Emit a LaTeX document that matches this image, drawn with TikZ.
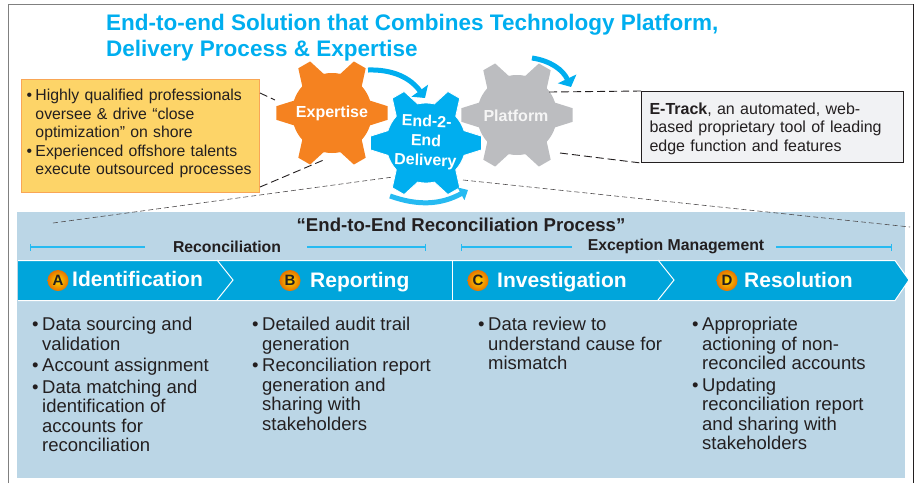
\documentclass[tikz,border=0pt]{standalone}
\usepackage{fontspec}
\setmainfont{Liberation Sans}
\usepackage{xcolor}
\usetikzlibrary{positioning, arrows.meta}

\definecolor{skyblue}{HTML}{00AEEF}
\definecolor{bandblue}{HTML}{00A5DB}
\definecolor{panelblue}{HTML}{BBD6E6}
\definecolor{inkdark}{HTML}{231F20}
\definecolor{cogorange}{HTML}{F58220}
\definecolor{coggray}{HTML}{BCBDC0}
\definecolor{noteyellow}{HTML}{FDD468}
\definecolor{noteedge}{HTML}{F9A655}
\definecolor{notegray}{HTML}{F1F2F4}

% bullet and hanging indent for the lists
\newcommand{\bul}[1][10pt]{\makebox[#1][l]{\textbullet}}
\newcommand{\ind}[1][10pt]{\hspace*{#1}}
% six-toothed cog: style, centre
\newcommand{\cog}[2]{\path[#1, shift={(#2)}] (-18:40) \foreach \a in {0,60,...,300} {
    -- (\a-18:40) -- (\a-7:56) -- (\a+7:56) -- (\a+18:40) arc[start angle=\a+18, end angle=\a+42, radius=40]} -- cycle;}

\begin{document}
\begin{tikzpicture}[
    x=1pt, y=-1pt,
    headline/.style={anchor=base west, inner sep=0pt, text=skyblue, font=\fontsize{22.5}{26}\selectfont\bfseries},
    coglabel/.style={text=white, align=center, font=\fontsize{16}{19.5}\selectfont\bfseries},
    sidebox/.style={anchor=north west, align=left, inner ysep=0pt, text=inkdark,
        font=\fontsize{16}{18.5}\selectfont},
    grouplabel/.style={text=inkdark, inner xsep=0pt, font=\fontsize{15.8}{18}\selectfont\bfseries},
    span/.style={draw=skyblue!85!white, line width=1.1pt},
    steptext/.style={anchor=base west, inner sep=0pt, text=white, font=\fontsize{21}{24}\selectfont\bfseries},
    stepdot/.style={circle, inner sep=0pt, minimum size=21pt, inner color=yellow!70!orange, outer color=orange!90!black,
        text=inkdark, font=\fontsize{15}{16}\selectfont\bfseries},
    listtext/.style={anchor=north west, align=left, inner sep=0pt, text=inkdark, font=\fontsize{18.5}{19.5}\selectfont},
    leader/.style={draw=inkdark, line width=0.9pt, dash pattern=on 8pt off 4pt},
    thinleader/.style={draw=inkdark!80, line width=0.6pt, dash pattern=on 5pt off 3pt},
    turn/.style={draw=skyblue, line width=5pt, -{Triangle[width=20pt, length=9pt]}}
]
\useasboundingbox (0,0) rectangle (917,483);

% Frame
\draw[gray, line width=1pt] (8,483) -- (8,4) -- (913,4);
\draw[inkdark, line width=1pt] (913,4) -- (913,483);

% Panel
\fill[panelblue] (17,212) rectangle (905,478);

% Heading
\node[headline] (title1) at (106,30) {End-to-end Solution that Combines Technology Platform,};
\node[headline] (title2) at (106,56) {Delivery Process \& Expertise};

% Leaders from the panel
\coordinate (panelL) at (53,223);
\coordinate (panelR) at (910,227);
\coordinate (cogL) at (393,177);
\coordinate (cogR) at (463,180);
\draw[thinleader] (panelL) -- (cogL);
\draw[thinleader] (cogR) -- (panelR);

% Cogs
\cog{fill=cogorange}{332,113}
\cog{fill=coggray}{517,115}
\cog{fill=skyblue, draw=white, line width=0.8pt}{426,143}
\node[coglabel] (expertise) at (332,113) {Expertise};
\node[coglabel, text=white!92!gray] (platform) at (516,116) {Platform};
\node[coglabel, rotate=-2] (delivery) at (426,142) {End-2-\\End\\Delivery};

% Turn arrows
\coordinate (turn1a) at (368,70);
\coordinate (turn1b) at (425,98);
\coordinate (turn2a) at (532,58);
\coordinate (turn2b) at (571,87);
\coordinate (turn3a) at (390,196);
\coordinate (turn3b) at (468,190);
\draw[turn] (turn1a) to[bend left=28] (turn1b);
\draw[turn] (turn2a) to[bend left=28] (turn2b);
\draw[turn, draw=skyblue!85!white, -{Triangle[width=14pt, length=8pt]}] (turn3a) to[bend right=24] (turn3b);

% Side boxes
\node[sidebox, fill=noteyellow, draw=noteedge, line width=1pt, inner xsep=5pt, text width=228pt,
    minimum height=113pt, font=\fontsize{15.8}{18.5}\selectfont] (skills) at (21,79) {%
    \bul[9pt]Highly qualified professionals\\
    \ind[9pt]oversee \& drive “close\\
    \ind[9pt]optimization” on shore\\
    \bul[9pt]Experienced offshore talents\\
    \ind[9pt]execute outsourced processes\rule[-8pt]{0pt}{0pt}};
\node[sidebox, fill=notegray, draw=inkdark, line width=1pt, inner xsep=8pt, text width=246pt,
    minimum height=71pt] (etrack) at (641,91) {%
    \rule{0pt}{15pt}\textbf{E-Track}, an automated, web-\\
    based proprietary tool of leading\\
    edge function and features};

% Leaders to the side boxes
\coordinate (skillsA) at (275,100);
\coordinate (skillsB) at (326,159);
\coordinate (etrackA) at (549,92);
\coordinate (etrackB) at (560,153);
\draw[leader] (skills.east |- 0,93) -- (skillsA);
\draw[leader] (skills.east |- 0,187) -- (skillsB);
\draw[leader] (etrackA) -- (etrack.north west);
\draw[leader] (etrackB) -- (etrack.south west);

% Panel heading and spans
\node[text=inkdark, font=\fontsize{18.6}{20}\selectfont\bfseries] (process) at (461,225) {“End-to-End Reconciliation Process”};
\node[grouplabel] (recon) at (227,247) {Reconciliation};
\node[grouplabel] (except) at (676,246) {Exception Management};
\coordinate (reconL) at (30,247);
\coordinate (reconR) at (426,247);
\coordinate (exceptL) at (461,247);
\coordinate (exceptR) at (892,247);
\draw[span, {Bar[width=7pt]}-] (reconL) -- ([xshift=-28pt]recon.west |- reconL);
\draw[span, -{Bar[width=7pt]}] ([xshift=26pt]recon.east |- reconR) -- (reconR);
\draw[span, {Bar[width=7pt]}-] (exceptL) -- ([xshift=-16pt]except.west |- exceptL);
\draw[span, -{Bar[width=7pt]}] ([xshift=12pt]except.east |- exceptR) -- (exceptR);

% Step band
\fill[bandblue] (18,261) -- (895,261) -- (909,280) -- (895,300) -- (18,300) -- cycle;
\draw[white, line width=1pt] (18,260.5) -- (895,260.5) -- (909,280) -- (895,300.5) -- (18,300.5);
\draw[white, line width=1pt] (217,260) -- (233,280) -- (217,300);
\draw[white, line width=1pt] (452,260) -- (452,300);
\draw[white, line width=1pt] (658,260) -- (674,280) -- (658,300);

% Steps
\foreach \l/\x/\tx/\ty/\txt in {A/58/72/286/Identification, B/290/310/287/Reporting, C/478/497/287/Investigation, D/727/744/287/Resolution} {
    \node[stepdot] (dot\l) at (\x,280.5) {\l};
    \node[steptext] (step\l) at (\tx,\ty) {\txt};
}

% Lists
\node[listtext] (listA) at (32,317) {%
    \bul Data sourcing and\\
    \ind validation\\[2pt]
    \bul Account assignment\\[2pt]
    \bul Data matching and\\
    \ind identification of\\
    \ind accounts for\\
    \ind reconciliation};
\node[listtext] (listB) at (252,317) {%
    \bul Detailed audit trail\\
    \ind generation\\[2pt]
    \bul Reconciliation report\\
    \ind generation and\\
    \ind sharing with\\
    \ind stakeholders};
\node[listtext] (listC) at (478,317) {%
    \bul Data review to\\
    \ind understand cause for\\
    \ind mismatch};
\node[listtext] (listD) at (692,317) {%
    \bul Appropriate\\
    \ind actioning of non-\\
    \ind reconciled accounts\\[2pt]
    \bul Updating\\
    \ind reconciliation report\\
    \ind and sharing with\\
    \ind stakeholders};

\end{tikzpicture}
\end{document}
